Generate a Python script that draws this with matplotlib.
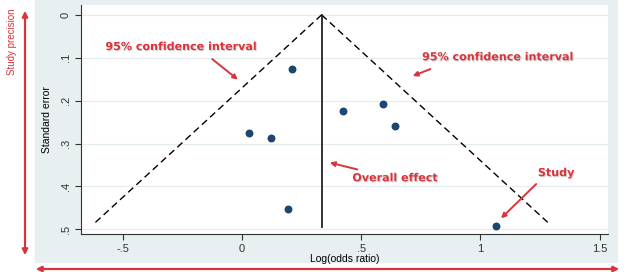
import numpy as np
import matplotlib.pyplot as plt
import matplotlib.patheffects as pe
from matplotlib.patches import Rectangle

# study estimates
log_or = [0.208, 0.425, 0.593, 0.642, 0.029, 0.122, 0.194, 1.065]
std_err = [0.126, 0.225, 0.209, 0.259, 0.275, 0.287, 0.453, 0.493]
overall = 0.334
se_max = 0.49

x_ticks = [-0.5, 0, 0.5, 1, 1.5]
x_labels = ["-.5", "0", ".5", "1", "1.5"]
y_ticks = [0, 0.1, 0.2, 0.3, 0.4, 0.5]
y_labels = ["0", ".1", ".2", ".3", ".4", ".5"]

RED = "#d8343b"
plt.rcParams['font.family'] = ['Liberation Sans', 'DejaVu Sans']

fig = plt.figure(figsize=(6.27, 2.72), dpi=100)
W, H = 627, 272

# Stata-like graph region
fig.patches.append(Rectangle((35 / W, 10 / H), 582 / W, 262 / H,
                             transform=fig.transFigure, color="#e7eff1", zorder=-5))

ax = fig.add_axes([81 / W, 38 / H, 527 / W, 229 / H])
ax.set_facecolor("white")

# pseudo 95% confidence limits
se = np.array([0, se_max])
ax.plot(overall - 1.96 * se, se, color="black", ls=(0, (5, 3)), lw=1.0)
ax.plot(overall + 1.96 * se, se, color="black", ls=(0, (5, 3)), lw=1.0)
ax.plot([overall, overall], [0, 0.495], color="#222222", lw=1.3)

ax.scatter(log_or, std_err, s=22, color="#1a476f", zorder=3)

ax.set_xlim(-0.675, 1.535)
ax.set_ylim(0.511, -0.023)
ax.set_xticks(x_ticks)
ax.set_xticklabels(x_labels, fontsize=8)
ax.set_yticks(y_ticks)
ax.set_yticklabels(y_labels, fontsize=8, rotation=90, va="center")
ax.grid(axis="y", color="#e4ecee", lw=0.8)
ax.set_axisbelow(True)
for side in ["top", "right"]:
    ax.spines[side].set_visible(False)
ax.spines["left"].set_color("#333333")
ax.spines["bottom"].set_color("#333333")
ax.tick_params(length=4, width=0.8, colors="#333333")
ax.set_xlabel("Log(odds ratio)", fontsize=7.5, labelpad=0)
ax.set_ylabel("Standard error", fontsize=7.5, labelpad=6)

# annotations
shadow = [pe.withSimplePatchShadow(offset=(0.8, -0.8), shadow_rgbFace="#999999", alpha=0.4)]
txt = dict(color=RED, fontsize=8, fontweight="bold", family=["DejaVu Sans"],
           ha="center", va="center", path_effects=shadow)
arr = dict(arrowstyle="-|>", color=RED, lw=1.4, mutation_scale=7)
ax.text(-0.256, 0.075, "95% confidence interval", **txt)
ax.annotate("", xy=(-0.008, 0.155), xytext=(-0.134, 0.099), arrowprops=arr)
ax.text(1.072, 0.099, "95% confidence interval", **txt)
ax.annotate("", xy=(0.705, 0.145), xytext=(0.801, 0.124), arrowprops=arr)
ax.text(0.642, 0.381, "Overall effect", **txt)
ax.annotate("", xy=(0.357, 0.343), xytext=(0.495, 0.362), arrowprops=arr)
ax.text(1.317, 0.369, "Study", **txt)
ax.annotate("", xy=(1.078, 0.479), xytext=(1.242, 0.390), arrowprops=arr)

# outer arrows
big = dict(arrowstyle="<|-|>", color=RED, lw=1.6, mutation_scale=8)
ax.annotate("", xy=(25, 264), xytext=(25, 14), xycoords="figure pixels",
            textcoords="figure pixels", arrowprops=big, annotation_clip=False)
fig.text(12 / W, 230 / H, "Study precision", color=RED, fontsize=7, rotation=90,
         ha="center", va="center", family=["Liberation Sans Narrow", "Liberation Sans"])
ax.annotate("", xy=(622, 3), xytext=(33, 3), xycoords="figure pixels",
            textcoords="figure pixels", arrowprops=big, annotation_clip=False)

fig.savefig("out.png", dpi=100)
